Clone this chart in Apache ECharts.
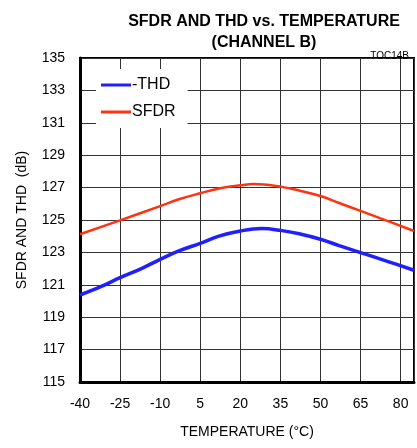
<!DOCTYPE html>
<html><head><meta charset="utf-8">
<script src="https://cdn.jsdelivr.net/npm/echarts@6/dist/echarts.min.js"></script>
<style>html,body{margin:0;padding:0;background:#fff}#c{width:417px;height:448px}</style>
</head><body><div id="c"></div>
<script>
const titleLines = ['SFDR AND THD vs. TEMPERATURE', '(CHANNEL B)'];
const tocLabel = 'TOC14B';
const xName = 'TEMPERATURE (°C)';
const yName = 'SFDR AND THD  (dB)';
const seriesNames = ['-THD', 'SFDR'];
const thdTemp = [-40, -32, -25, -17, -10, -3, 5, 12, 20, 28, 35, 42, 50, 57, 65, 75, 85];
const thdVal  = [120.37, 120.9, 121.44, 122.0, 122.57, 123.09, 123.56, 124.0, 124.32, 124.47, 124.36, 124.15, 123.81, 123.42, 122.99, 122.45, 121.9];
const sfdrTemp = [-40, -25, -10, -3, 5, 12, 20, 25, 35, 42, 50, 57, 65, 75, 85];
const sfdrVal  = [124.12, 124.98, 125.86, 126.28, 126.65, 126.94, 127.14, 127.22, 127.06, 126.82, 126.48, 126.05, 125.56, 124.95, 124.32];

const axisFont = 'Liberation Sans, Arial, sans-serif';
const chart = echarts.init(document.getElementById('c'), null, {renderer: 'canvas'});
chart.setOption({
  animation: false,
  backgroundColor: '#fff',
  title: [{
    text: titleLines.join('\n'), left: 259, top: 6, textAlign: 'center',
    textStyle: {fontFamily: 'Liberation Sans, Arial, sans-serif', fontWeight: 'bold', fontSize: 16, lineHeight: 21, color: '#000'}
  }, {
    text: tocLabel, right: 3, top: 46,
    textStyle: {fontFamily: 'Liberation Sans, Arial, sans-serif', fontWeight: 'normal', fontSize: 10, color: '#000'}
  }],
  legend: {
    orient: 'vertical', left: 96, top: 69,
    backgroundColor: '#fff', padding: [8, 12, 8, 5],
    itemWidth: 30, itemHeight: 3, itemGap: 11, icon: 'rect',
    textStyle: {fontFamily: 'Liberation Sans, Arial, sans-serif', fontSize: 16, color: '#000', padding: [0, 0, 0, -4]},
    data: seriesNames
  },
  grid: {left: 80, top: 58, right: 3, bottom: 66, show: true, borderColor: '#000', borderWidth: 2, backgroundColor: 'transparent'},
  xAxis: {
    type: 'value', min: -40, max: 85, interval: 15,
    name: xName, nameLocation: 'middle', nameGap: 43,
    nameTextStyle: {fontFamily: axisFont, fontSize: 14, color: '#000'},
    axisLine: {show: true, onZero: false, lineStyle: {color: '#000', width: 3}},
    axisTick: {show: false},
    axisLabel: {fontFamily: axisFont, fontSize: 14, color: '#000', margin: 15, showMaxLabel: false},
    splitLine: {show: true, lineStyle: {color: '#333', width: 1}}
  },
  yAxis: {
    type: 'value', min: 115, max: 135, interval: 2,
    name: yName, nameLocation: 'middle', nameGap: 51,
    nameTextStyle: {fontFamily: axisFont, fontSize: 14, color: '#000'},
    axisLine: {show: true, onZero: false, lineStyle: {color: '#000', width: 3}},
    axisTick: {show: false},
    axisLabel: {fontFamily: axisFont, fontSize: 14, color: '#000', margin: 15},
    splitLine: {show: true, lineStyle: {color: '#333', width: 1}}
  },
  series: [{
    name: seriesNames[0], type: 'line', smooth: 0.4, symbol: 'none',
    data: thdTemp.map((t, i) => [t, thdVal[i]]),
    lineStyle: {color: '#2020ff', width: 3.5}, itemStyle: {color: '#2020ff'}, z: 3
  }, {
    name: seriesNames[1], type: 'line', smooth: 0.4, symbol: 'none',
    data: sfdrTemp.map((t, i) => [t, sfdrVal[i]]),
    lineStyle: {color: '#ff3311', width: 2.5}, itemStyle: {color: '#ff3311'}, z: 3
  }]
});
</script></body></html>
